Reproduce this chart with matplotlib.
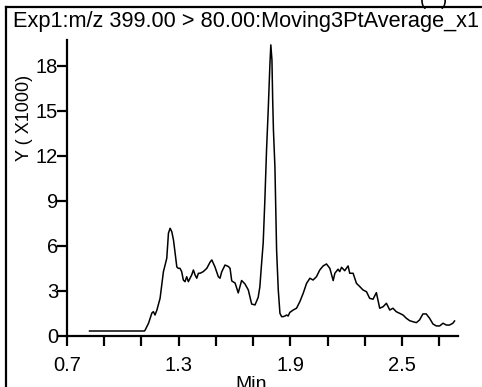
import numpy as np
import matplotlib
matplotlib.use('Agg')
import matplotlib.pyplot as plt
from matplotlib.lines import Line2D

plt.rcParams['font.family'] = ['Liberation Sans', 'DejaVu Sans']

# Данные хроматограммы (время, мин / интенсивность)
time_min = [0.821, 1.116, 1.120, 1.138, 1.156, 1.164, 1.173, 1.183, 1.200, 1.218,
            1.227, 1.236, 1.245, 1.254, 1.263, 1.272, 1.281, 1.290, 1.298, 1.307,
            1.316, 1.325, 1.334, 1.343, 1.352, 1.361, 1.370, 1.379, 1.388, 1.397,
            1.406, 1.415, 1.432, 1.451, 1.469, 1.478, 1.495, 1.513, 1.522, 1.531,
            1.549, 1.567, 1.576, 1.585, 1.603, 1.620, 1.638, 1.656, 1.674, 1.692,
            1.710, 1.727, 1.736, 1.746, 1.754, 1.763, 1.772, 1.781, 1.790, 1.795,
            1.801, 1.805, 1.809, 1.817, 1.826, 1.835, 1.844, 1.853, 1.861, 1.871,
            1.880, 1.888, 1.897, 1.915, 1.933, 1.951, 1.969, 1.987, 2.005, 2.022,
            2.040, 2.058, 2.076, 2.094, 2.112, 2.130, 2.139, 2.156, 2.165, 2.175,
            2.192, 2.210, 2.219, 2.237, 2.255, 2.273, 2.290, 2.309, 2.326, 2.344,
            2.362, 2.380, 2.398, 2.416, 2.434, 2.451, 2.469, 2.487, 2.505, 2.523,
            2.541, 2.559, 2.577, 2.594, 2.612, 2.630, 2.648, 2.666, 2.684, 2.702,
            2.720, 2.738, 2.755, 2.773, 2.782]
intensity = [333, 333, 400, 850, 1530, 1620, 1400, 1730, 2510, 4290,
             4730, 5180, 6850, 7180, 6950, 6400, 5510, 4600, 4510, 4510,
             4290, 3730, 3620, 3950, 3620, 3850, 4070, 4400, 4070, 3850,
             4180, 4180, 4290, 4510, 4930, 5070, 4600, 3950, 3850, 4270,
             4730, 4630, 4510, 3670, 3530, 2870, 3700, 3470, 3070, 2130,
             2070, 2570, 3270, 4930, 6200, 9070, 12400, 15070, 18070, 19400,
             18400, 15730, 13730, 11270, 5730, 3070, 1510, 1290, 1290, 1330,
             1400, 1330, 1570, 1730, 1850, 2290, 2850, 3510, 3850, 3730,
             3950, 4400, 4670, 4800, 4510, 3690, 4180, 4450, 4290, 4580,
             4350, 4670, 4180, 4180, 3510, 3290, 3070, 2950, 2510, 2450,
             2890, 1850, 1950, 2180, 1730, 1850, 1620, 1510, 1400, 1180,
             1020, 950, 890, 1070, 1470, 1470, 1180, 800, 670, 670,
             850, 730, 730, 850, 1000]

x_ticks = [0.7, 0.9, 1.1, 1.3, 1.5, 1.7, 1.9, 2.1, 2.3, 2.5, 2.7]
x_tick_labels = ['0.7', '', '', '1.3', '', '', '1.9', '', '', '2.5', '']
y_ticks = [0, 3, 6, 9, 12, 15, 18]

fig = plt.figure(figsize=(4.82, 3.87), dpi=100)
ax = fig.add_axes([0.139, 0.1318, 0.811, 0.765])

y_k = np.array(intensity) / 1000.0
ax.plot(time_min, y_k, color='black', lw=1.1)

ax.set_xlim(0.7, 2.8)
ax.set_ylim(0, 19.73)
ax.set_xticks(x_ticks)
ax.set_xticklabels(x_tick_labels)
ax.set_yticks(y_ticks)
ax.set_yticklabels([str(v) for v in y_ticks])

for s in ['top', 'right']:
    ax.spines[s].set_visible(False)
for s in ['left', 'bottom']:
    ax.spines[s].set_linewidth(1.6)

ax.tick_params(axis='x', direction='out', length=7.5, width=1.6, labelsize=14.5, pad=7)
ax.tick_params(axis='y', direction='out', length=7.5, width=1.6, labelsize=14.5, pad=-1)

ax.set_xlabel('Min', fontsize=14)
ax.xaxis.set_label_coords(0.47, -0.135)
ax.set_ylabel('Y ( X1000)', fontsize=13)
ax.yaxis.set_label_coords(-0.087, 0.735)

# Заголовок и рамка
fig.text(0.026, 0.93, 'Exp1:m/z 399.00 > 80.00:Moving3PtAverage_x1',
         fontsize=15.7, ha='left', va='baseline')
fig.text(0.9, 0.998, '(   )', fontsize=13, ha='center', va='center')
fig.add_artist(Line2D([0.012, 1.0], [0.982, 0.982], color='black', lw=1.6,
                      transform=fig.transFigure))
fig.add_artist(Line2D([0.012, 0.012], [0.0, 0.982], color='black', lw=1.6,
                      transform=fig.transFigure))

fig.savefig('out.png', dpi=100)
